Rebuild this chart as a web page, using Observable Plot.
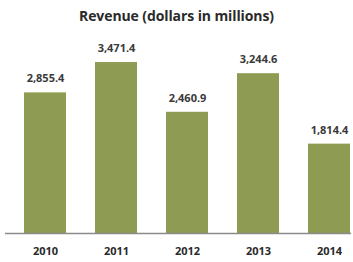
<!DOCTYPE html>
<html><head><meta charset="utf-8">
<script src="https://cdn.jsdelivr.net/npm/d3@7"></script>
<script src="https://cdn.jsdelivr.net/npm/@observablehq/plot@0.6"></script>
<style>
body{margin:0;background:#fff;width:353px;height:262px;overflow:hidden;font-family:"Open Sans",sans-serif;}
#title{height:30px;line-height:32px;text-align:center;font-weight:bold;font-size:14px;color:#2a2a2a;letter-spacing:-0.1px;}
</style></head>
<body>
<div id="title">Revenue (dollars in millions)</div>
<div id="chart"></div>
<script>
const years = ["2010","2011","2012","2013","2014"];
const revenue = [2855.4, 3471.4, 2460.9, 3244.6, 1814.4];
const data = years.map((y,i)=>({year:y, value:revenue[i]}));
const fmt = d3.format(",.1f");
const chart = Plot.plot({
  width:353, height:232,
  marginTop:6, marginBottom:29, marginLeft:5, marginRight:2,
  style:{fontFamily:"Open Sans, sans-serif", background:"#fff"},
  x:{domain:years, range:[22,351], paddingInner:0.413, paddingOuter:0, label:null},
  y:{domain:[0,4000], axis:null},
  marks:[
    Plot.barY(data,{x:"year", y:"value", fill:"#8d9c52"}),
    Plot.ruleY([0],{stroke:"#8a8a8a", strokeWidth:1.5}),
    Plot.text(data,{x:"year", y:"value", text:d=>fmt(d.value), dy:-14, fontWeight:"bold", fontSize:11, fill:"#3a3a3a"}),
    Plot.axisX({tickSize:0, tickPadding:14, fontWeight:"bold", fontSize:11, color:"#2a2a2a", label:null})
  ]
});
document.getElementById("chart").appendChild(chart);
</script>
</body></html>
